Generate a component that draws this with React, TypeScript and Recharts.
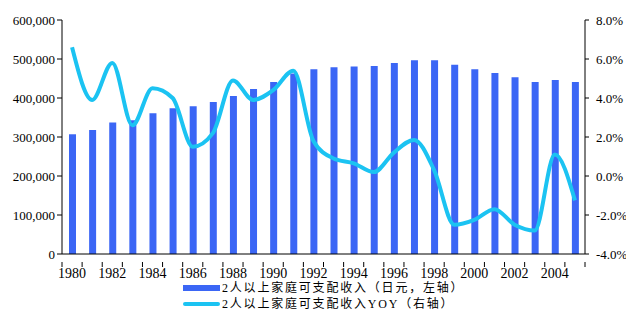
import { ComposedChart, Bar, Line, XAxis, YAxis } from 'recharts';

// 年份
const years = [
  '1980', '1981', '1982', '1983', '1984', '1985', '1986', '1987', '1988', '1989',
  '1990', '1991', '1992', '1993', '1994', '1995', '1996', '1997', '1998', '1999',
  '2000', '2001', '2002', '2003', '2004', '2005',
];

// 2人以上家庭可支配收入（日元）
const income = [
  307000, 318000, 337000, 343000, 361000, 374000, 379000, 390000, 405000, 423000,
  441000, 463000, 474000, 479000, 481000, 482000, 490000, 497000, 497000, 485000,
  474000, 464000, 453000, 441000, 446000, 441000,
];

// 同比（小数）
const yoy = [
  0.066, 0.039, 0.058, 0.026, 0.045, 0.040, 0.015, 0.022, 0.049, 0.039,
  0.044, 0.054, 0.018, 0.009, 0.0065, 0.002, 0.012, 0.0185, 0.003, -0.025,
  -0.0225, -0.017, -0.025, -0.028, 0.011, -0.0125,
];

const leftTicks = [0, 100000, 200000, 300000, 400000, 500000, 600000];
const rightTicks = [-0.04, -0.02, 0, 0.02, 0.04, 0.06, 0.08];

const BAR_COLOR = '#3B66F5';
const LINE_COLOR = '#1BC3F2';
const FONT = "'Liberation Serif', 'Times New Roman', serif";
const CJK_FONT = "'Liberation Serif', 'Noto Sans CJK SC', serif";

const data = years.map((year, i) => ({ year, income: income[i], yoy: yoy[i] }));

const PLOT_LEFT = 62;
const PLOT_RIGHT = 585;
const STEP = (PLOT_RIGHT - PLOT_LEFT) / years.length;

// x轴刻度：刻度线在分类边界，标签每两年一个
const YearTick = (props: any) => {
  const { x, y, payload, index } = props;
  const left = x - STEP / 2;
  return (
    <g>
      <line x1={left} y1={y} x2={left} y2={y + 5} stroke="#000" />
      {index === years.length - 1 && (
        <line x1={left + STEP} y1={y} x2={left + STEP} y2={y + 5} stroke="#000" />
      )}
      {index % 2 === 0 && (
        <text x={x} y={y + 16} textAnchor="middle" fontFamily={FONT} fontSize={14} fill="#000">
          {payload.value}
        </text>
      )}
    </g>
  );
};

const fmtLeft = (v: number) => v.toLocaleString('en-US');
const fmtRight = (v: number) => `${(v * 100).toFixed(1)}%`;

export default function App() {
  return (
    <div style={{ position: 'absolute', left: 0, top: 0, width: 626, height: 315, background: '#fff' }}>
      <ComposedChart width={626} height={315} data={data} margin={{ top: 20, right: 0, bottom: 0, left: 0 }}>
        <XAxis
          dataKey="year"
          interval={0}
          height={61}
          tickLine={false}
          axisLine={{ stroke: '#000' }}
          tick={<YearTick />}
        />
        <YAxis
          yAxisId="left"
          width={62}
          domain={[0, 600000]}
          ticks={leftTicks}
          tickFormatter={fmtLeft}
          axisLine={{ stroke: '#000' }}
          tickLine={{ stroke: '#000' }}
          tickSize={5}
          tickMargin={2}
          tick={{ fill: '#000', fontSize: 13, fontFamily: FONT }}
        />
        <YAxis
          yAxisId="right"
          orientation="right"
          width={41}
          domain={[-0.04, 0.08]}
          ticks={rightTicks}
          tickFormatter={fmtRight}
          axisLine={{ stroke: '#000' }}
          tickLine={{ stroke: '#000' }}
          tickSize={4}
          tickMargin={7}
          tick={{ fill: '#000', fontSize: 13, fontFamily: FONT }}
        />
        <Bar yAxisId="left" dataKey="income" fill={BAR_COLOR} barSize={7} isAnimationActive={false} />
        <Line
          yAxisId="right"
          dataKey="yoy"
          type="monotone"
          stroke={LINE_COLOR}
          strokeWidth={4}
          dot={false}
          activeDot={false}
          isAnimationActive={false}
        />
      </ComposedChart>
      <div
        style={{
          position: 'absolute',
          left: 183,
          top: 280,
          fontFamily: CJK_FONT,
          fontSize: 12,
          lineHeight: '16px',
          color: '#000',
          letterSpacing: 1.8,
        }}
      >
        <div style={{ display: 'flex', alignItems: 'center' }}>
          <span style={{ display: 'inline-block', width: 37, height: 6, background: BAR_COLOR, marginRight: 2 }} />
          <span>2人以上家庭可支配收入（日元，左轴）</span>
        </div>
        <div style={{ display: 'flex', alignItems: 'center' }}>
          <span style={{ display: 'inline-block', width: 37, height: 4, background: LINE_COLOR, marginRight: 2, borderRadius: 2 }} />
          <span>2人以上家庭可支配收入YOY（右轴）</span>
        </div>
      </div>
    </div>
  );
}
